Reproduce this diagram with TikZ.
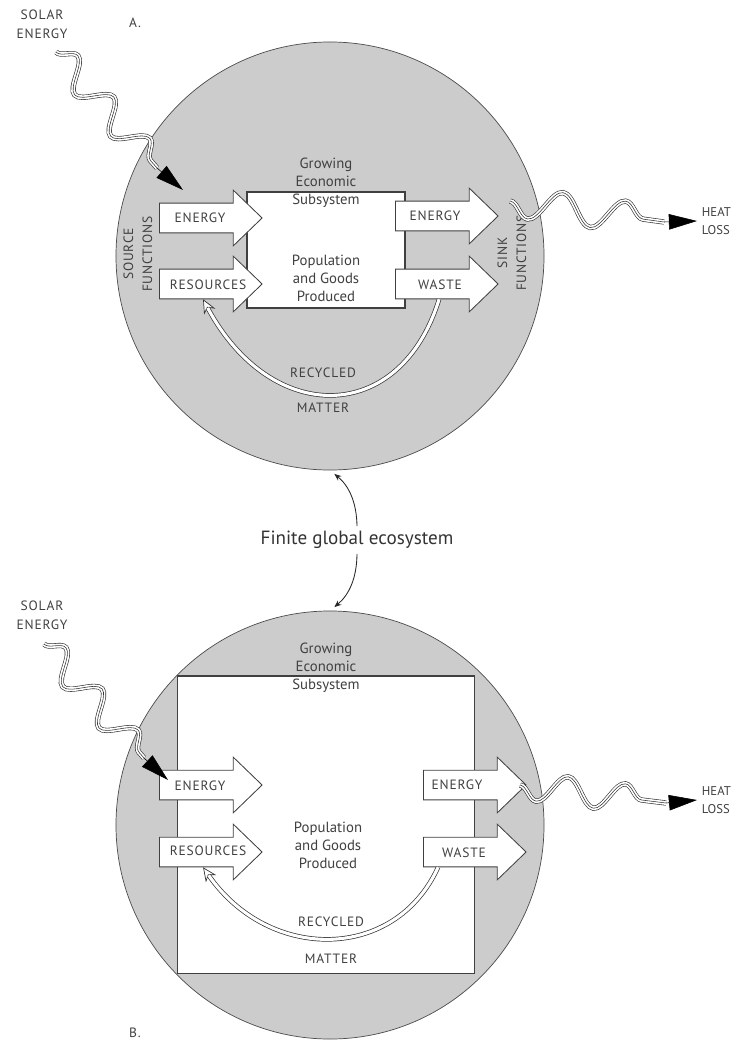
\documentclass[tikz,border=0pt]{standalone}
\usepackage{fontspec}
\setmainfont{PT Sans}
\newfontfamily\capsfont[LetterSpace=6]{PT Sans}
\usetikzlibrary{shapes.arrows,arrows.meta,decorations.pathmorphing,calc}

\tikzset{
  globe/.style={circle, draw=black!70, fill=black!20, line width=.5pt, minimum size=304.4pt, inner sep=0pt},
  ecobox/.style={draw=black!75, fill=white, line width=.8pt, inner sep=0pt},
  fatarrow/.style={single arrow, draw=black!75, fill=white, line width=.6pt, anchor=tail,
    inner xsep=0pt, inner ysep=10.25pt, text height=0pt, text depth=0pt,
    minimum height=73pt, minimum width=39pt, single arrow head extend=9.25pt, single arrow tip angle=88},
  lbl/.style={font=\capsfont\fontsize{9.6}{13.5}\selectfont, text=black!75, align=center},
  heat/.style={font=\fontsize{9}{12.5}\selectfont, text=black!75, anchor=west, align=left},
  eco/.style={font=\fontsize{10.5}{12.8}\selectfont, text=black!75, align=center},
  ray/.style={decorate, decoration={snake, segment length=39pt, amplitude=10pt, #1},
    double=white, double distance=2.8pt, line width=.45pt, draw=black!80},
  ray/.default={},
  raymid/.style={decorate, decoration={snake, segment length=39pt, amplitude=10pt, #1},
    line width=.4pt, draw=black!80},
  raymid/.default={},
  sunhead/.style={-{Triangle[length=20pt,width=11pt]}, line width=.4pt, black},
  recyc/.style={double=white, double distance=2.2pt, line width=.5pt, draw=black!80, shorten >=7pt},
  recyctip/.style={line width=.5pt, draw=black!80, -{Stealth[length=10pt,width=9pt,fill=white]}},
  link/.style={-{Stealth[length=5pt,width=4pt]}, line width=.6pt, black!85, shorten >=4pt}
}

\begin{document}
\begin{tikzpicture}[x=0.025cm, y=-0.025cm]
\fill[white] (0,0) rectangle (735,1043);
\useasboundingbox (0,0) rectangle (735,1043);

% A: small economy in the big globe
\node[globe] (circA) at (330,256) {};
\node[ecobox, minimum width=112.4pt, minimum height=82.5pt] (boxA) at (326,250) {};
\node[eco] (growA) at (326,183) {Growing\\Economic\\Subsystem};
\node[eco] (popA) at (326,278) {Population\\and Goods\\Produced};

\node[fatarrow] (engInA) at (159,218) {};
\node[fatarrow] (resA) at (159,284) {};
\node[fatarrow] (engOutA) at (395,216) {};
\node[fatarrow] (wasteA) at (395,284) {};
\node[lbl] (engInAt) at (200,218) {ENERGY};
\node[lbl] (resAt) at (208,285) {RESOURCES};
\node[lbl] (engOutAt) at (435,216) {ENERGY};
\node[lbl] (wasteAt) at (440,285) {WASTE};

\node[lbl, rotate=90] (srcA) at (138,254) {SOURCE\\FUNCTIONS};
\node[lbl, rotate=90] (sinkA) at (512,253) {SINK\\FUNCTIONS};

\draw[recyctip] (wasteA.south) .. controls (400,426) and (271,426) .. (resA.south);
\draw[recyc] (wasteA.south) .. controls (400,426) and (271,426) .. (resA.south);
\node[lbl] (recA) at (323,373) {RECYCLED};
\node[lbl] (matA) at (323,408) {MATTER};

\node[lbl] (solA) at (42,24) {SOLAR\\ENERGY};
\node[lbl] (labA) at (135,23) {A.};
\coordinate (sunA) at (56,52);
\coordinate (sunEndA) at (157,168);
\coordinate (sunTipA) at (183,190);
\draw[ray] (sunA) -- (sunEndA);
\draw[raymid] (sunA) -- (sunEndA);
\draw[sunhead] (sunEndA) -- (sunTipA);

\node[heat] (heatA) at (697,221) {HEAT\\LOSS};
\coordinate (hotA) at (510,201);
\coordinate (hotEndA) at (664,222);
\draw[ray={mirror, segment length=45pt, amplitude=11pt}] (hotA) -- (hotEndA);
\draw[raymid={mirror, segment length=45pt, amplitude=11pt}] (hotA) -- (hotEndA);
\draw[sunhead] (hotEndA) -- (heatA.west);

% the label between
\node[font=\fontsize{13.6}{15}\selectfont, text=black!80] (fge) at (357,540) {Finite global ecosystem};

% B: economy grown to fill the globe
\node[globe] (circB) at (330,825) {};
\node[ecobox, minimum width=210.6pt, minimum height=211.3pt] (boxB) at (326,824.5) {};
\node[eco] (growB) at (326,668) {Growing\\Economic\\Subsystem};
\node[eco] (popB) at (328,845) {Population\\and Goods\\Produced};

\node[fatarrow] (engInB) at (159,785) {};
\node[fatarrow] (resB) at (159,852) {};
\node[fatarrow] (engOutB) at (423,785) {};
\node[fatarrow] (wasteB) at (423,852) {};
\node[lbl] (engInBt) at (200,786) {ENERGY};
\node[lbl] (resBt) at (208,851) {RESOURCES};
\node[lbl] (engOutBt) at (457,785) {ENERGY};
\node[lbl] (wasteBt) at (464,853) {WASTE};

\draw[recyctip] ($(wasteB.south)+(-29,0)$) .. controls (395,962) and (269,962) .. (resB.south);
\draw[recyc] ($(wasteB.south)+(-29,0)$) .. controls (395,962) and (269,962) .. (resB.south);
\node[lbl] (recB) at (331,922) {RECYCLED};
\node[lbl] (matB) at (331,959) {MATTER};

\node[lbl] (solB) at (42,615) {SOLAR\\ENERGY};
\node[lbl] (labB) at (135,1033) {B.};
\coordinate (sunB) at (44,644);
\coordinate (sunEndB) at (144,758);
\coordinate (sunTipB) at (168,780);
\draw[ray] (sunB) -- (sunEndB);
\draw[raymid] (sunB) -- (sunEndB);
\draw[sunhead] (sunEndB) -- (sunTipB);

\node[heat] (heatB) at (697,800) {HEAT\\LOSS};
\coordinate (hotB) at (520,785);
\coordinate (hotEndB) at (666,803);
\draw[ray={mirror, segment length=41pt, amplitude=10pt}] (hotB) -- (hotEndB);
\draw[raymid={mirror, segment length=41pt, amplitude=10pt}] (hotB) -- (hotEndB);
\draw[sunhead] (hotEndB) -- (heatB.west);

\draw[link] (fge.north) to[bend right=25] (circA.south);
\draw[link] (fge.south) to[bend left=25] (circB.north);

\end{tikzpicture}
\end{document}
